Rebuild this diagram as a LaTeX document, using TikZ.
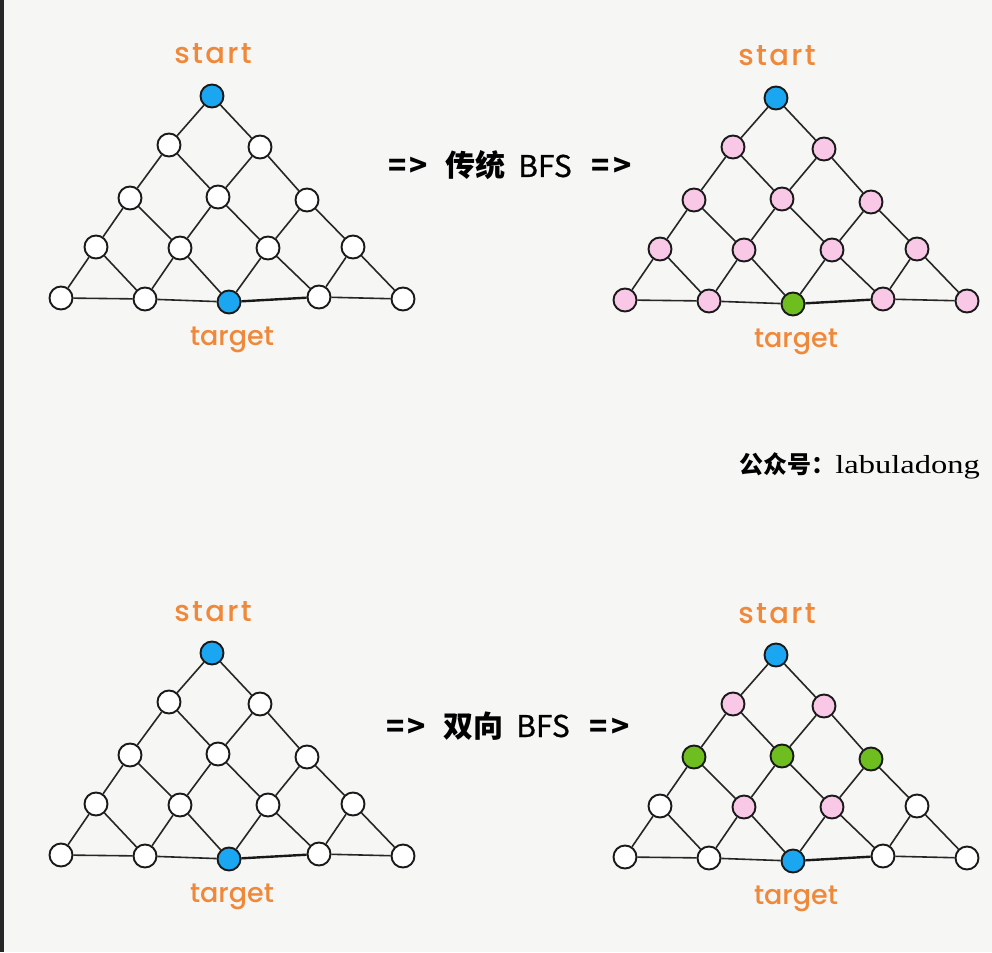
\documentclass[tikz,border=0pt]{standalone}
\usepackage{fontspec}
\newfontfamily\cjk{Noto Sans CJK SC}
\newfontfamily\lblfont{Poppins Medium}
\newfontfamily\lblfontS[LetterSpace=8]{Poppins Medium}
\newfontfamily\wideserif[FakeStretch=1.25]{Liberation Serif}
\definecolor{bgc}{HTML}{F6F6F4}
\definecolor{nb}{HTML}{1AA6F0}
\definecolor{np}{HTML}{F8C8E6}
\definecolor{ng}{HTML}{6DBE1E}
\definecolor{nw}{HTML}{FFFFFF}
\definecolor{lblc}{HTML}{F0883A}
\tikzset{
  vtx/.style={circle,draw=black!90,line width=1.9pt,minimum size=23pt,inner sep=0pt},
  edge/.style={line width=1.6pt,draw=black!85},
  thickedge/.style={line width=2.4pt,draw=black!90},
  lbl/.style={text=lblc,inner sep=0pt,anchor=base},
  midtxt/.style={font=\cjk\fontsize{30}{30}\selectfont,inner sep=0pt,anchor=base}
}
\def\PX{{212,169,260,130,218,307,96,180,268,353,61,145,229,319,403}}
\def\PY{{96,145,147,198,197,200,247,248,248,247,298,299,302,297,299}}
\newcommand\lattice[4]{%
  \begin{scope}[shift={(#2,#3)}]
    \foreach \c [count=\i from 0] in {#4} {
      \pgfmathsetmacro\xx{\PX[\i]}
      \pgfmathsetmacro\yy{\PY[\i]}
      \node[vtx,fill=\c] (#1\i) at (\xx,\yy) {};
    }
    \foreach \a/\b in {0/1,1/3,3/6,6/10,0/2,2/5,5/9,9/14,10/11,11/12,13/14,
                       1/4,4/8,8/13,3/7,7/12,6/11,2/4,4/7,7/11,5/8,8/12,9/13}
      \draw[edge] (#1\a) -- (#1\b);
    \draw[thickedge] (#112) -- (#113);
    \node[lbl,font=\lblfontS\fontsize{29}{29}\selectfont] (#1start) at (213,64) {start};
    \node[lbl,font=\lblfont\fontsize{27}{27}\selectfont] (#1target) at (232,345) {target};
  \end{scope}}
\newcommand\arrowsym{{\bfseries =\kern3pt>}}
\newcommand\arrowline[1]{\arrowsym\hspace{17pt}{\bfseries #1}\hspace{13pt}{\addfontfeature{FakeBold=0.6}BFS}\hspace{20pt}\arrowsym}
\begin{document}
\begin{tikzpicture}[x=1pt,y=-1pt]
  \useasboundingbox (0,0) rectangle (992,952);
  \fill[bgc] (0,0) rectangle (992,952);
  \fill[black!85] (0,0) rectangle (4,952);
  \lattice{TL}{0}{0}{nb,nw,nw,nw,nw,nw,nw,nw,nw,nw,nw,nw,nb,nw,nw}
  \lattice{TR}{564}{2}{nb,np,np,np,np,np,np,np,np,np,np,np,ng,np,np}
  \lattice{BL}{0}{557}{nb,nw,nw,nw,nw,nw,nw,nw,nw,nw,nw,nw,nb,nw,nw}
  \lattice{BR}{564}{559}{nb,np,np,ng,ng,ng,nw,np,np,nw,nw,nw,nb,nw,nw}
  \node[midtxt] (arrowA) at (510,177) {\arrowline{传统}};
  \node[midtxt] (arrowB) at (508,737) {\arrowline{双向}};
  \node[inner sep=0pt,anchor=base east] (credit) at (980,473)
    {{\cjk\bfseries\fontsize{24}{24}\selectfont 公众号：}{\wideserif\fontsize{26}{26}\selectfont labuladong}};
\end{tikzpicture}
\end{document}
